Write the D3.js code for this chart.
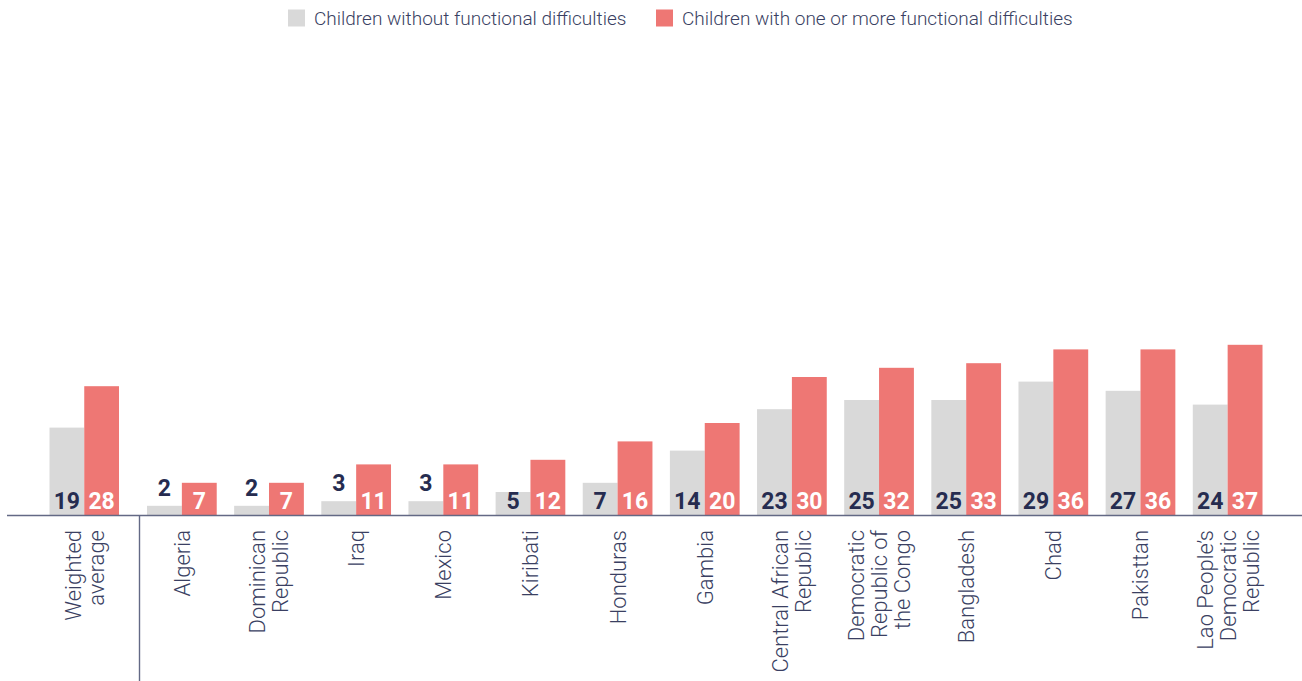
<!DOCTYPE html>
<html>
<head>
<meta charset="utf-8">
<script src="https://cdn.jsdelivr.net/npm/d3@7"></script>
<style>
  html, body { margin: 0; padding: 0; background: #fff; }
  svg { display: block; font-family: Roboto, "Noto Sans", sans-serif; }
</style>
</head>
<body>
<svg id="chart" width="1302" height="681"></svg>
<script>
// ---- data ----
const seriesNames = ["Children without functional difficulties", "Children with one or more functional difficulties"];
const averageLabel = ["Weighted", "average"];
const averageWithout = 19;
const averageWith = 28;
const countries = [
  ["Algeria"],
  ["Dominican", "Republic"],
  ["Iraq"],
  ["Mexico"],
  ["Kiribati"],
  ["Honduras"],
  ["Gambia"],
  ["Central African", "Republic"],
  ["Democratic", "Republic of", "the Congo"],
  ["Bangladesh"],
  ["Chad"],
  ["Pakisttan"],
  ["Lao People\u2019s", "Democratic", "Republic"]
];
const withoutValues = [2, 2, 3, 3, 5, 7, 14, 23, 25, 25, 29, 27, 24];
const withValues = [7, 7, 11, 11, 12, 16, 20, 30, 32, 33, 36, 36, 37];

// ---- styles ----
const colWithout = "#d9d9d9";
const colWith = "#ee7774";
const navy = "#262c50";
const textCol = "#3a3f62";
const axisCol = "#636985";

const svg = d3.select("#chart");
const baseY = 515;
const y = d3.scaleLinear().domain([0, 100]).range([baseY, 55]);

// groups
const groups = [{label: averageLabel, v: [averageWithout, averageWith], avg: true}]
  .concat(countries.map((c, i) => ({label: c, v: [withoutValues[i], withValues[i]], avg: false})));

const xAvg = d3.scaleBand().domain(["avg"]).range([49.5, 119]).padding(0);
const xC = d3.scaleBand().domain(countries.map(c => c.join(" "))).range([147, 1262.5])
  .paddingInner(0.2).paddingOuter(0);

groups.forEach(g => {
  const key = g.avg ? "avg" : g.label.join(" ");
  g.x0 = g.avg ? xAvg(key) : xC(key);
  g.bw = g.avg ? xAvg.bandwidth() : xC.bandwidth();
});

const xSub = d3.scaleBand().domain([0, 1]).range([0, 1]).padding(0);

// bars
const gBars = svg.append("g");
groups.forEach(g => {
  g.v.forEach((val, k) => {
    const bx = g.x0 + xSub(k) * g.bw;
    const bw = xSub.bandwidth() * g.bw;
    gBars.append("rect")
      .attr("x", bx).attr("y", y(val))
      .attr("width", bw).attr("height", baseY - y(val))
      .attr("fill", k === 0 ? colWithout : colWith);
    const inside = (baseY - y(val)) > 20;
    gBars.append("text")
      .attr("x", bx + bw / 2)
      .attr("y", inside ? baseY - 6.5 : y(val) - 10)
      .attr("text-anchor", "middle")
      .attr("font-size", 23)
      .attr("font-weight", 700)
      .attr("fill", k === 0 ? navy : (inside ? "#fff" : navy))
      .text(val);
  });
});

// axis line
svg.append("line")
  .attr("x1", 7).attr("x2", 1302).attr("y1", baseY + 0.5).attr("y2", baseY + 0.5)
  .attr("stroke", axisCol).attr("stroke-width", 1.6);

// separator
svg.append("line")
  .attr("x1", 139.5).attr("x2", 139.5).attr("y1", baseY).attr("y2", 681)
  .attr("stroke", axisCol).attr("stroke-width", 1.4);

// category labels
const fs = 22, lh = 23;
groups.forEach(g => {
  const cx = g.x0 + g.bw / 2;
  const n = g.label.length;
  const t = svg.append("g")
    .attr("transform", `translate(${cx},530) rotate(-90)`)
    .append("text")
    .attr("text-anchor", "end")
    .attr("font-size", fs)
    .attr("font-weight", 300)
    .attr("fill", textCol);
  g.label.forEach((line, i) => {
    t.append("tspan")
      .attr("x", 0)
      .attr("y", (i - (n - 1) / 2) * lh + 0.36 * fs)
      .text(line);
  });
});

// legend
const legend = svg.append("g");
const legendX = [288, 656];
seriesNames.forEach((name, i) => {
  legend.append("rect")
    .attr("x", legendX[i]).attr("y", 9.5).attr("width", 17).attr("height", 17)
    .attr("fill", i === 0 ? colWithout : colWith);
  legend.append("text")
    .attr("x", legendX[i] + 26).attr("y", 24.5)
    .attr("font-size", 19)
    .attr("font-weight", 300)
    .attr("fill", textCol)
    .text(name);
});
</script>
</body>
</html>
